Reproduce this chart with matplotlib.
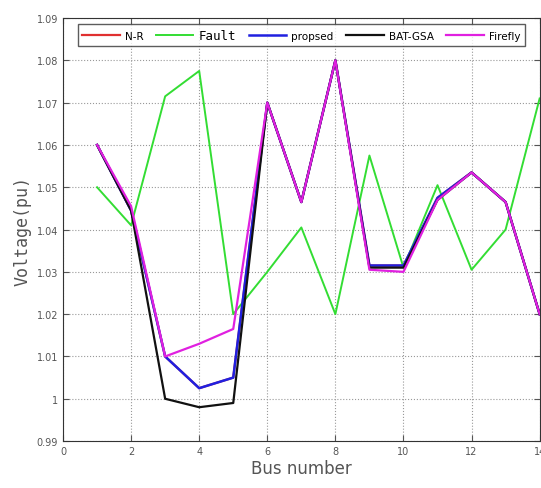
import numpy as np
import matplotlib.pyplot as plt

# Bus voltages
bus = np.arange(1, 15)
nr = [1.060, 1.0445, 1.010, 1.0025, 1.005, 1.070, 1.0465, 1.080, 1.0315, 1.0315, 1.0475, 1.0535, 1.0465, 1.020]
fault = [1.050, 1.041, 1.0715, 1.0775, 1.020, 1.030, 1.0405, 1.020, 1.0575, 1.031, 1.0505, 1.0305, 1.040, 1.071]
proposed = [1.060, 1.0445, 1.010, 1.0025, 1.005, 1.070, 1.0465, 1.080, 1.0315, 1.0315, 1.0475, 1.0535, 1.0465, 1.020]
bat_gsa = [1.060, 1.0445, 1.000, 0.998, 0.999, 1.070, 1.0465, 1.080, 1.031, 1.031, 1.047, 1.0535, 1.0465, 1.020]
firefly = [1.060, 1.0455, 1.010, 1.013, 1.0165, 1.070, 1.0465, 1.080, 1.0305, 1.030, 1.047, 1.0535, 1.0465, 1.020]

fig = plt.figure(figsize=(5.41, 4.89), dpi=100)
ax = fig.add_axes([0.1165, 0.096, 0.881, 0.865])

ax.plot(bus, nr, color='#e03030', lw=1.6, label='N-R')
ax.plot(bus, fault, color='#33dd33', lw=1.4, label='Fault')
ax.plot(bus, proposed, color='#2020e0', lw=1.8, label='propsed')
ax.plot(bus, bat_gsa, color='#111111', lw=1.6, label='BAT-GSA')
ax.plot(bus, firefly, color='#e020e0', lw=1.6, label='Firefly')

ax.set_xlim(0, 14)
ax.set_ylim(0.99, 1.09)
ax.set_xticks(np.arange(0, 15, 2))
ax.set_yticks(np.arange(0.99, 1.0901, 0.01))
ax.set_yticklabels(['0.99', '1', '1.01', '1.02', '1.03', '1.04', '1.05', '1.06', '1.07', '1.08', '1.09'])
ax.tick_params(labelsize=7, colors='#555555', direction='in', length=4, top=True, right=True)
ax.grid(True, linestyle=':', color='#999999', lw=0.8)
for s in ax.spines.values():
    s.set_color('#333333')

ax.set_xlabel('Bus number', fontsize=12, color='#555555', labelpad=2)
ax.set_ylabel('Voltage(pu)', fontsize=12, color='#555555', family='DejaVu Sans Mono')

leg = ax.legend(loc='upper center', ncol=5, fontsize=7.5, frameon=True, fancybox=False,
                edgecolor='#333333', handlelength=3.6, columnspacing=1.2, handletextpad=0.5,
                borderaxespad=0.4, bbox_to_anchor=(0.5, 0.995))
leg.get_texts()[1].set_family('DejaVu Sans Mono')
leg.get_texts()[1].set_fontsize(9)

fig.savefig('out.png', dpi=100)
